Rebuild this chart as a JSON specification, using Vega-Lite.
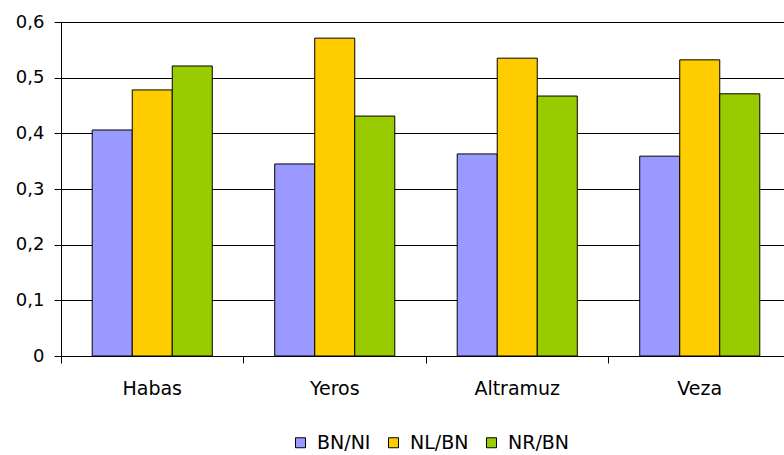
{
  "$schema": "https://vega.github.io/schema/vega-lite/v6.json",
  "autosize": "none",
  "width": 723,
  "height": 334,
  "padding": {"left": 61, "top": 22, "right": 0, "bottom": 99},
  "background": "white",
  "config": {
    "view": {"stroke": null},
    "font": "DejaVu Sans"
  },
  "data": {
    "values": [
      {"cultivo": "Habas", "serie": "BN/NI", "valor": 0.406},
      {"cultivo": "Habas", "serie": "NL/BN", "valor": 0.478},
      {"cultivo": "Habas", "serie": "NR/BN", "valor": 0.521},
      {"cultivo": "Yeros", "serie": "BN/NI", "valor": 0.345},
      {"cultivo": "Yeros", "serie": "NL/BN", "valor": 0.571},
      {"cultivo": "Yeros", "serie": "NR/BN", "valor": 0.431},
      {"cultivo": "Altramuz", "serie": "BN/NI", "valor": 0.363},
      {"cultivo": "Altramuz", "serie": "NL/BN", "valor": 0.535},
      {"cultivo": "Altramuz", "serie": "NR/BN", "valor": 0.467},
      {"cultivo": "Veza", "serie": "BN/NI", "valor": 0.359},
      {"cultivo": "Veza", "serie": "NL/BN", "valor": 0.532},
      {"cultivo": "Veza", "serie": "NR/BN", "valor": 0.471}
    ]
  },
  "mark": {"type": "bar", "stroke": "black", "strokeWidth": 1},
  "encoding": {
    "x": {
      "field": "cultivo",
      "type": "nominal",
      "sort": ["Habas", "Yeros", "Altramuz", "Veza"],
      "scale": {"range": [0, 730], "paddingInner": 0, "paddingOuter": 0},
      "axis": {
        "title": null,
        "labelAngle": 0,
        "bandPosition": 0,
        "labelPadding": 16,
        "labelFontSize": 19,
        "labelColor": "black",
        "domainColor": "black",
        "tickColor": "black",
        "tickSize": 7,
        "grid": false
      }
    },
    "xOffset": {
      "field": "serie",
      "type": "nominal",
      "scale": {"paddingInner": 0, "paddingOuter": 0.78}
    },
    "y": {
      "field": "valor",
      "type": "quantitative",
      "scale": {"domain": [0, 0.6], "nice": false},
      "axis": {
        "title": null,
        "values": [0, 0.1, 0.2, 0.3, 0.4, 0.5, 0.6],
        "labelExpr": "datum.value == 0 ? '0' : replace(format(datum.value, '.1f'), '.', ',')",
        "labelFontSize": 18,
        "labelColor": "black",
        "labelPadding": 10,
        "domainColor": "black",
        "tickColor": "black",
        "tickSize": 7,
        "grid": true,
        "gridColor": "black",
        "gridOpacity": 1,
        "gridWidth": 1
      }
    },
    "color": {
      "field": "serie",
      "type": "nominal",
      "scale": {"domain": ["BN/NI", "NL/BN", "NR/BN"], "range": ["#9999FF", "#FFCC00", "#99CC00"]},
      "legend": {
        "title": null,
        "orient": "none",
        "direction": "horizontal",
        "legendX": 230,
        "legendY": 411,
        "symbolType": "square",
        "symbolSize": 100,
        "symbolStrokeColor": "black",
        "symbolStrokeWidth": 1,
        "labelFontSize": 19,
        "labelColor": "black",
        "labelOffset": 7,
        "columnPadding": 13
      }
    }
  }
}
